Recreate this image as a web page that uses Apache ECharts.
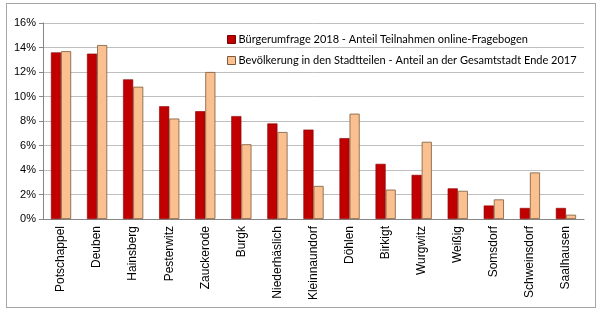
<!DOCTYPE html>
<html>
<head>
<meta charset="utf-8">
<script src="https://cdn.jsdelivr.net/npm/echarts@6/dist/echarts.min.js"></script>
<style>
  html, body { margin: 0; padding: 0; background: #fff; }
  #chart { width: 600px; height: 309px; position: relative; }
  #frame { position: absolute; left: 6px; top: 3px; width: 588px; height: 303px; border: 1px solid #a6a6a6; pointer-events: none; }
</style>
</head>
<body>
<div id="chart"></div>
<div id="frame"></div>
<script>
const districts = ["Potschappel", "Deuben", "Hainsberg", "Pesterwitz", "Zauckerode", "Burgk",
  "Niederhäslich", "Kleinnaundorf", "Döhlen", "Birkigt", "Wurgwitz", "Weißig",
  "Somsdorf", "Schweinsdorf", "Saalhausen"];
// Anteil in %
const survey2018 = [13.6, 13.5, 11.4, 9.2, 8.8, 8.4, 7.8, 7.3, 6.6, 4.5, 3.6, 2.5, 1.1, 0.9, 0.9];
const population2017 = [13.7, 14.2, 10.8, 8.2, 12.0, 6.1, 7.1, 2.7, 8.6, 2.4, 6.3, 2.3, 1.6, 3.8, 0.35];

const chart = echarts.init(document.getElementById("chart"));

const option = {
  animation: false,
  textStyle: { fontFamily: "Liberation Sans, Arial, sans-serif" },
  legend: {
    orient: "vertical",
    left: 222,
    top: 29,
    icon: "rect",
    itemWidth: 8,
    itemHeight: 8,
    itemGap: 10,
    itemStyle: { borderWidth: 1 },
    textStyle: { fontFamily: "Lato, sans-serif", fontSize: 11, color: "#000", padding: [0, 0, 0, -2] },
    data: [
      { name: "Bürgerumfrage 2018 - Anteil Teilnahmen online-Fragebogen", itemStyle: { borderColor: "#7a0000" } },
      { name: "Bevölkerung in den Stadtteilen - Anteil an der Gesamtstadt Ende 2017", itemStyle: { borderColor: "#7a5a3a" } }
    ]
  },
  grid: { left: 43, right: 16, top: 23, bottom: 90 },
  xAxis: {
    type: "category",
    data: districts,
    axisLine: { lineStyle: { color: "#868686" } },
    axisTick: { length: 4, lineStyle: { color: "#868686" } },
    axisLabel: { rotate: 90, interval: 0, fontSize: 12, color: "#000", margin: 7 }
  },
  yAxis: {
    type: "value",
    min: 0,
    max: 16,
    interval: 2,
    axisLine: { show: true, lineStyle: { color: "#868686" } },
    axisTick: { show: true, length: 4, lineStyle: { color: "#868686" } },
    axisLabel: { formatter: "{value}%", fontSize: 11, color: "#000", margin: 7 },
    splitLine: { lineStyle: { color: "#bfbfbf" } }
  },
  series: [
    {
      name: "Bürgerumfrage 2018 - Anteil Teilnahmen online-Fragebogen",
      type: "bar",
      data: survey2018,
      barGap: "0%",
      barCategoryGap: "44%",
      itemStyle: { color: "#c00000", borderColor: "#8a0000", borderWidth: 0.6 }
    },
    {
      name: "Bevölkerung in den Stadtteilen - Anteil an der Gesamtstadt Ende 2017",
      type: "bar",
      data: population2017,
      barGap: "0%",
      barCategoryGap: "44%",
      itemStyle: { color: "#fac090", borderColor: "#7a5a3a", borderWidth: 0.8 }
    }
  ]
};

chart.setOption(option);
</script>
</body>
</html>
